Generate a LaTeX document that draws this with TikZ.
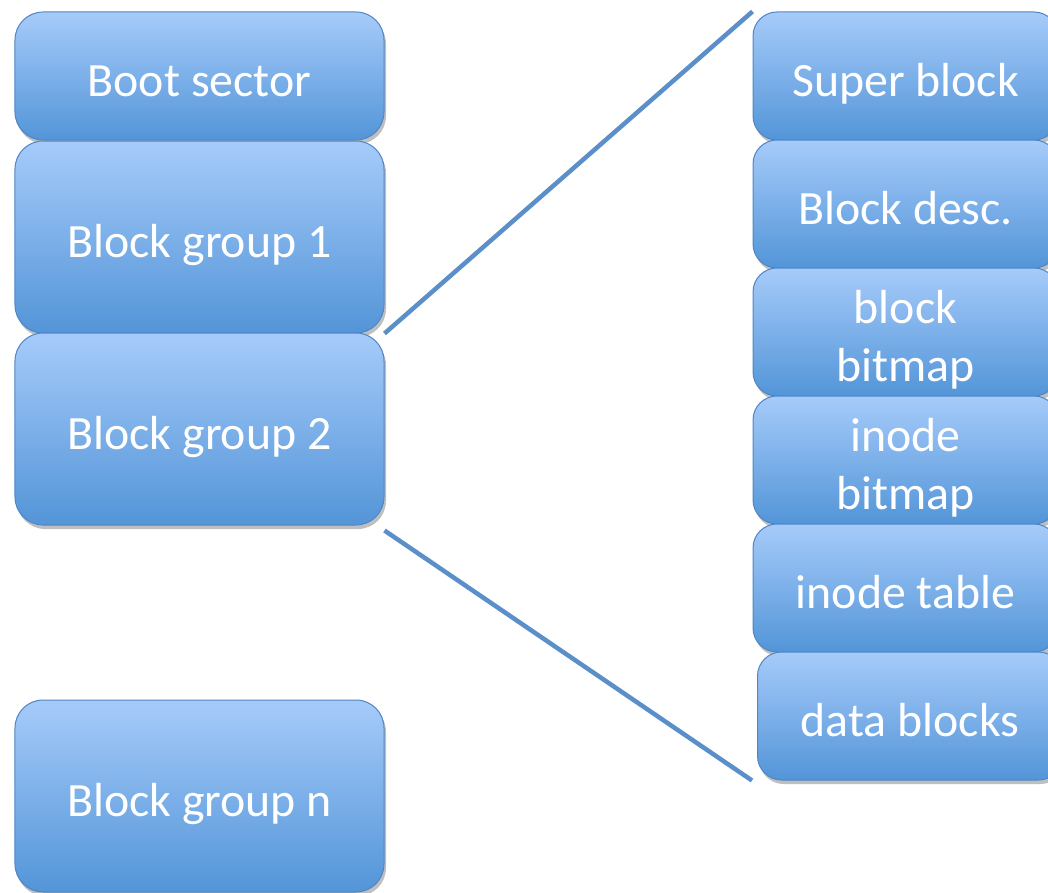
\documentclass[tikz,border=0pt]{standalone}
\usepackage{fontspec}
\setmainfont{Carlito}
\usetikzlibrary{shadows}
\definecolor{boxtop}{HTML}{A6CBFA}
\definecolor{boxbot}{HTML}{5395D8}
\definecolor{boxline}{HTML}{4F86C4}
\definecolor{linkline}{HTML}{5B8FCA}
% centred label lines, set a little below the box middle
\newcommand{\boxtext}[1]{\raisebox{-9bp}[\height][\depth]{\begin{tabular}{@{}c@{}}#1\end{tabular}}}
\tikzset{
  blockbox/.style={rounded corners=28bp, draw=boxline, line width=1bp,
    top color=boxtop, bottom color=boxbot, text=white,
    font=\fontsize{48}{58}\selectfont, inner sep=0pt,
    drop shadow={shadow xshift=2bp, shadow yshift=-4bp, opacity=0.25, fill=black}},
  subbox/.style={blockbox, rounded corners=24bp},
  link/.style={draw=linkline, line width=4.5bp}
}
\begin{document}
\begin{tikzpicture}[x=1bp, y=-1bp]
  \clip (0,0) rectangle (1048,893);
  \fill[white] (0,0) rectangle (1048,893);
  % left column: disk layout
  \node[blockbox, minimum width=369bp, minimum height=128bp] (boot) at (199.5,76) {\boxtext{Boot sector}};
  \node[blockbox, minimum width=369bp, minimum height=192bp] (bg1) at (199.5,237) {\boxtext{Block group 1}};
  \node[blockbox, minimum width=369bp, minimum height=192bp] (bg2) at (199.5,429) {\boxtext{Block group 2}};
  \node[blockbox, minimum width=369bp, minimum height=192bp] (bgn) at (199.5,796) {\boxtext{Block group n}};
  % right column: contents of one block group
  \node[subbox, minimum width=305bp, minimum height=128bp] (sb) at (905.5,76) {\boxtext{Super block}};
  \node[subbox, minimum width=305bp, minimum height=128bp] (bd) at (905.5,204) {\boxtext{Block desc.}};
  \node[subbox, minimum width=305bp, minimum height=128bp] (bb) at (905.5,332) {\boxtext{block\\bitmap}};
  \node[subbox, minimum width=305bp, minimum height=128bp] (ib) at (905.5,460) {\boxtext{inode\\bitmap}};
  \node[subbox, minimum width=305bp, minimum height=128bp] (it) at (905.5,588) {\boxtext{inode table}};
  \node[subbox, minimum width=305bp, minimum height=128bp] (db) at (910,716) {\boxtext{data blocks}};
  % expansion lines
  \draw[link] (bg1.south east) -- (sb.north west);
  \draw[link] ([yshift=-5bp]bg2.south east) -- ([xshift=-5bp]db.south west);
\end{tikzpicture}
\end{document}
